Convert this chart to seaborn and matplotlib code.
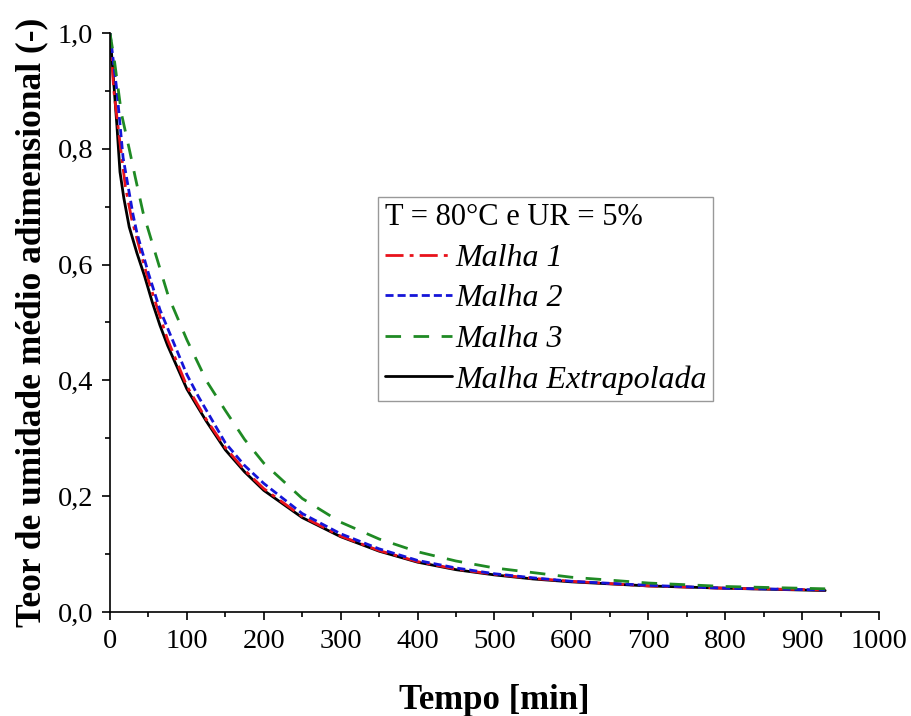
import numpy as np
import pandas as pd
import matplotlib
matplotlib.use("Agg")
import matplotlib.pyplot as plt
import seaborn as sns

# Average dimensionless moisture content vs. drying time (T = 80 °C, RH = 5 %)
tempo_extrap = [0, 4, 9, 13, 18, 25, 35, 45, 55, 65, 75, 90, 100, 125, 150, 175,
                200, 250, 300, 350, 400, 450, 500, 550, 600, 700, 800, 930]
teor_extrap = [1.0, 0.93, 0.84, 0.76, 0.715, 0.665, 0.62, 0.58, 0.535, 0.495, 0.46,
               0.415, 0.385, 0.33, 0.28, 0.242, 0.21, 0.163, 0.13, 0.105, 0.086,
               0.073, 0.064, 0.057, 0.052, 0.045, 0.041, 0.037]

tempo_m1 = [0, 5, 13, 20, 28, 40, 50, 61, 75, 100, 125, 150, 175, 200, 250, 300,
            350, 400, 450, 500, 550, 600, 700, 800, 930]
teor_m1 = [1.0, 0.90, 0.81, 0.735, 0.68, 0.62, 0.573, 0.527, 0.47, 0.39, 0.333,
           0.284, 0.245, 0.213, 0.165, 0.131, 0.106, 0.087, 0.074, 0.065, 0.058,
           0.053, 0.045, 0.041, 0.038]

tempo_m2 = [0, 9, 17, 30, 35, 50, 65, 75, 100, 115, 150, 175, 200, 250, 300, 350,
            400, 450, 500, 550, 600, 700, 800, 930]
teor_m2 = [1.0, 0.90, 0.785, 0.686, 0.655, 0.585, 0.522, 0.49, 0.41, 0.372, 0.292,
           0.253, 0.222, 0.170, 0.135, 0.109, 0.089, 0.076, 0.066, 0.059, 0.053,
           0.046, 0.041, 0.038]

tempo_m3 = [0, 6, 15, 25, 33, 43, 60, 76, 100, 126, 150, 175, 200, 250, 300, 350,
            400, 450, 500, 600, 700, 800, 930]
teor_m3 = [1.0, 0.95, 0.86, 0.80, 0.75, 0.69, 0.615, 0.545, 0.47, 0.398, 0.348,
           0.298, 0.257, 0.196, 0.155, 0.126, 0.104, 0.088, 0.076, 0.060, 0.050,
           0.044, 0.040]

serie_nomes = ["Malha 1", "Malha 2", "Malha 3", "Malha Extrapolada"]
legenda_titulo = "T = 80°C e UR = 5%"

x_ticks = [0, 100, 200, 300, 400, 500, 600, 700, 800, 900, 1000]
y_ticks = [0.0, 0.2, 0.4, 0.6, 0.8, 1.0]
y_tick_labels = ["0,0", "0,2", "0,4", "0,6", "0,8", "1,0"]

sns.set_theme(style="ticks")
plt.rcParams["font.family"] = ["Liberation Serif", "DejaVu Serif"]
for key in ["text.color", "axes.labelcolor", "xtick.color", "ytick.color"]:
    plt.rcParams[key] = "black"

fig = plt.figure(figsize=(9.12, 7.16), dpi=100)
ax = fig.add_axes([0.1206, 0.1453, 0.8432, 0.8086])

lw = 2.0
series = [
    (tempo_extrap, teor_extrap, serie_nomes[3], "black", "-"),
    (tempo_m1, teor_m1, serie_nomes[0], "#e8121b", (0, (6.5, 2.2, 1.4, 2.2))),
    (tempo_m2, teor_m2, serie_nomes[1], "#1515d8", (0, (2.9, 1.45))),
    (tempo_m3, teor_m3, serie_nomes[2], "#1f8a24", (0, (5.6, 4.5))),
]
handles = {}
for tx, ty, nome, cor, ls in series:
    df = pd.DataFrame({"Tempo": tx, "Teor": ty})
    sns.lineplot(data=df, x="Tempo", y="Teor", ax=ax, color=cor, linestyle=ls,
                 linewidth=lw, legend=False, sort=False)
    handles[nome] = ax.get_lines()[-1]

ax.set_xlim(0, 1000)
ax.set_ylim(0, 1.0)
ax.set_xticks(x_ticks)
ax.set_xticklabels([str(t) for t in x_ticks])
ax.set_yticks(y_ticks)
ax.set_yticklabels(y_tick_labels)
ax.set_xticks(np.arange(50, 1000, 100), minor=True)
ax.set_yticks([0.1, 0.3, 0.5, 0.7, 0.9], minor=True)

for side in ["top", "right"]:
    ax.spines[side].set_visible(False)
for side in ["left", "bottom"]:
    ax.spines[side].set_linewidth(1.2)
    ax.spines[side].set_color("black")

ax.tick_params(axis="both", which="major", direction="out", length=6, width=1.2,
               labelsize=20.5, colors="black", pad=6)
ax.tick_params(axis="both", which="minor", direction="out", length=3.5, width=1.2,
               colors="black")

ax.set_xlabel("Tempo [min]", fontsize=25, fontweight="bold", labelpad=22)
ax.set_ylabel("Teor de umidade médio adimensional (-)", fontsize=25.5,
              fontweight="bold", labelpad=7)

leg = ax.legend([handles[n] for n in serie_nomes], serie_nomes,
                title=legenda_titulo, loc="upper left",
                bbox_to_anchor=(0.349, 0.717), fontsize=23, title_fontsize=22,
                frameon=True, fancybox=False, edgecolor="#808080",
                handlelength=2.1, handletextpad=0.1, labelspacing=0.35,
                borderpad=0.2, borderaxespad=0, alignment="left")
leg.get_frame().set_linewidth(1.0)
for t in leg.get_texts():
    t.set_fontstyle("italic")

fig.savefig("out.png", dpi=100, facecolor="white")
